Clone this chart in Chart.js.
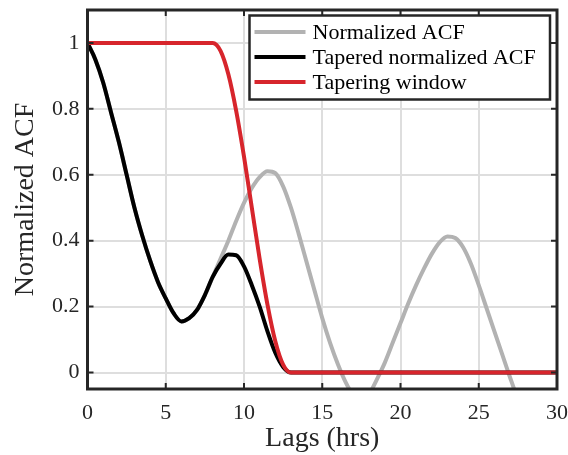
<!DOCTYPE html>
<html>
<head>
<meta charset="utf-8">
<script src="https://cdn.jsdelivr.net/npm/chart.js@4.4.1/dist/chart.umd.min.js"></script>
<style>
  html, body { margin: 0; padding: 0; background: #fff; }
</style>
</head>
<body>
<canvas id="acfChart" width="568" height="455"></canvas>
<script>
// lags in hours, values are normalized autocorrelation
const acfLags = [0, 0.5, 1, 1.5, 2, 2.5, 3, 3.5, 4, 4.5, 5, 5.5, 6, 6.5, 7, 7.5, 8, 8.5, 9, 9.5,
  10, 10.5, 11, 11.5, 12, 12.5, 13, 13.5, 14, 14.5, 15, 15.5, 16, 16.5, 17, 17.5, 18, 18.5, 19, 19.5,
  20, 20.5, 21, 21.5, 22, 22.5, 23, 23.5, 24, 24.5, 25, 25.5, 26, 26.5, 27, 27.5, 28, 28.5, 29, 29.5, 30];
const acfValues = [1, 0.95, 0.88, 0.79, 0.70, 0.60, 0.50, 0.415, 0.34, 0.275, 0.225, 0.18, 0.155, 0.165, 0.19, 0.235, 0.29, 0.345, 0.40, 0.46,
  0.515, 0.56, 0.593, 0.611, 0.605, 0.565, 0.50, 0.42, 0.335, 0.25, 0.165, 0.09, 0.025, -0.03, -0.07, -0.085, -0.065, -0.02, 0.03, 0.09,
  0.15, 0.21, 0.265, 0.315, 0.36, 0.395, 0.413, 0.408, 0.38, 0.33, 0.265, 0.195, 0.125, 0.055, -0.015, -0.08, -0.13, -0.17, -0.2, -0.23, -0.25];

const taperedLags = [0, 0.5, 1, 1.5, 2, 2.5, 3, 3.5, 4, 4.5, 5, 5.5, 6, 6.5, 7, 7.5, 8, 8.5, 9, 9.5,
  10, 10.5, 11, 11.5, 12, 12.5, 13, 30];
const taperedValues = [1, 0.95, 0.88, 0.79, 0.70, 0.60, 0.50, 0.415, 0.34, 0.275, 0.225, 0.18, 0.155, 0.165, 0.19, 0.235, 0.29, 0.33, 0.358, 0.356,
  0.322, 0.265, 0.20, 0.125, 0.06, 0.017, 0, 0];

const windowLags = [0, 7.5, 8, 8.5, 9, 9.5, 10, 10.5, 11, 11.5, 12, 12.5, 13, 13.5, 30];
const windowValues = [1, 1, 1, 0.976, 0.905, 0.794, 0.655, 0.5, 0.345, 0.206, 0.095, 0.024, 0, 0, 0];

const seriesNames = ['Normalized ACF', 'Tapered normalized ACF', 'Tapering window'];
const seriesColors = ['#b2b2b2', '#000000', '#d7252c'];

const xTicks = [0, 5, 10, 15, 20, 25, 30];
const yTicks = [0, 0.2, 0.4, 0.6, 0.8, 1];

const ink = '#262626';
const serif = '"Liberation Serif", "Times New Roman", serif';

function pts(xs, ys) {
  return xs.map((x, i) => ({ x: x, y: ys[i] }));
}

function series(i, xs, ys, order) {
  return {
    label: seriesNames[i],
    data: pts(xs, ys),
    borderColor: seriesColors[i],
    borderWidth: 4,
    pointRadius: 0,
    cubicInterpolationMode: 'monotone',
    clip: 0,
    order: order
  };
}

// box round the axes, inward ticks on all four sides, legend in the top right
const axesBox = {
  id: 'axesBox',
  afterDatasetsDraw(chart) {
    const { ctx, chartArea: a, scales } = chart;
    const sx = scales.x, sy = scales.y;
    ctx.save();
    ctx.strokeStyle = ink;
    ctx.lineWidth = 2;
    ctx.beginPath();
    xTicks.forEach(v => {
      const px = sx.getPixelForValue(v);
      ctx.moveTo(px, a.bottom); ctx.lineTo(px, a.bottom - 6);
      ctx.moveTo(px, a.top); ctx.lineTo(px, a.top + 6);
    });
    yTicks.forEach(v => {
      const py = sy.getPixelForValue(v);
      ctx.moveTo(a.left, py); ctx.lineTo(a.left + 6, py);
      ctx.moveTo(a.right, py); ctx.lineTo(a.right - 6, py);
    });
    ctx.stroke();
    ctx.lineWidth = 3;
    ctx.strokeRect(a.left, a.top, a.right - a.left, a.bottom - a.top);

    // legend
    const lx = 249.5, ly = 15.5, lw = 300.5, lh = 84;
    ctx.fillStyle = '#fff';
    ctx.fillRect(lx, ly, lw, lh);
    ctx.lineWidth = 2.5;
    ctx.strokeRect(lx, ly, lw, lh);
    ctx.font = '22px ' + serif;
    ctx.textBaseline = 'middle';
    ctx.textAlign = 'left';
    chart.data.datasets.forEach((ds, i) => {
      const ry = ly + 16.5 + i * 25;
      ctx.strokeStyle = ds.borderColor;
      ctx.lineWidth = 4;
      ctx.beginPath();
      ctx.moveTo(lx + 5, ry); ctx.lineTo(lx + 56, ry);
      ctx.stroke();
      ctx.fillStyle = '#000';
      ctx.fillText(ds.label, lx + 63, ry + 1);
    });
    ctx.restore();
  }
};

new Chart(document.getElementById('acfChart'), {
  type: 'line',
  data: {
    datasets: [
      series(0, acfLags, acfValues, 3),
      series(1, taperedLags, taperedValues, 2),
      series(2, windowLags, windowValues, 1)
    ]
  },
  options: {
    responsive: false,
    animation: false,
    devicePixelRatio: 1,
    events: [],
    layout: { padding: { top: 10, right: 11, left: 0, bottom: 0 } },
    plugins: { legend: { display: false }, tooltip: { enabled: false } },
    scales: {
      x: {
        type: 'linear',
        min: 0, max: 30,
        afterBuildTicks: s => { s.ticks = xTicks.map(v => ({ value: v })); },
        afterFit: s => { s.height = 66; s.paddingLeft = 0; s.paddingRight = 0; },
        grid: { color: '#dedede', lineWidth: 2, drawTicks: false },
        border: { display: false },
        ticks: { color: ink, padding: 11, font: { family: serif, size: 22 }, maxRotation: 0 },
        title: { display: true, text: 'Lags (hrs)', color: ink, font: { family: serif, size: 28 }, padding: { top: 0, bottom: 0 } }
      },
      y: {
        type: 'linear',
        min: -0.05, max: 1.1,
        afterBuildTicks: s => { s.ticks = yTicks.map(v => ({ value: v })); },
        afterFit: s => { s.width = 87.5; s.paddingTop = 0; s.paddingBottom = 0; },
        grid: { color: '#dedede', lineWidth: 2, drawTicks: false },
        border: { display: false },
        ticks: { color: ink, padding: 8, font: { family: serif, size: 22 }, callback: v => String(+v.toFixed(1)) },
        title: { display: true, text: 'Normalized ACF', color: ink, font: { family: serif, size: 28 }, padding: { top: 9, bottom: 0 } }
      }
    }
  },
  plugins: [axesBox]
});
</script>
</body>
</html>
